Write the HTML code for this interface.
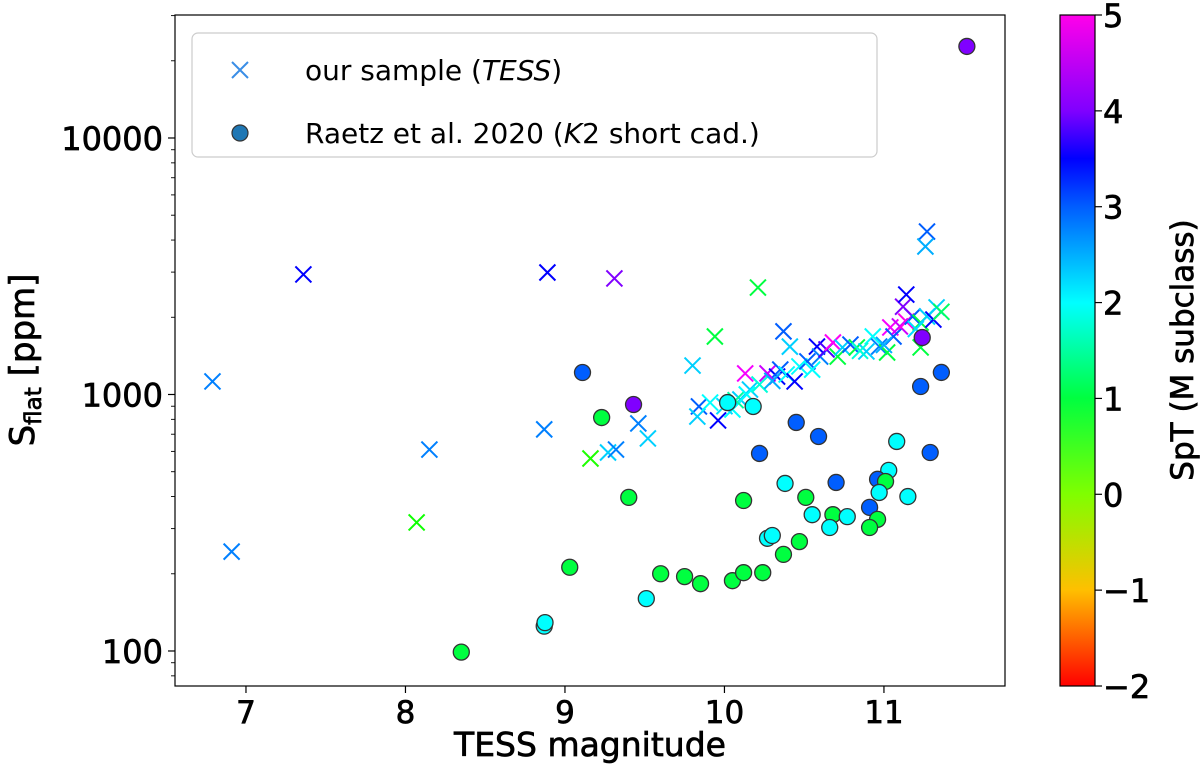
<!DOCTYPE html>
<html><head><meta charset="utf-8"><style>
html,body{margin:0;padding:0;background:#fff;}
svg{display:block;font-family:"DejaVu Sans","Liberation Sans",sans-serif;}
.big{stroke:#000;stroke-width:0.7px;}
</style></head><body>
<svg id="chart" width="1200" height="775" viewBox="0 0 1200 775" xmlns="http://www.w3.org/2000/svg">
<defs>
<linearGradient id="cbgrad" x1="0" y1="1" x2="0" y2="0">
<stop offset="0" stop-color="hsl(0,100%,50%)"/>
<stop offset="0.143" stop-color="hsl(45,100%,50%)"/>
<stop offset="0.286" stop-color="hsl(90,100%,50%)"/>
<stop offset="0.429" stop-color="hsl(135,100%,50%)"/>
<stop offset="0.571" stop-color="hsl(180,100%,50%)"/>
<stop offset="0.714" stop-color="hsl(218,100%,50%)"/>
<stop offset="0.786" stop-color="hsl(240,100%,50%)"/>
<stop offset="0.857" stop-color="hsl(270,100%,50%)"/>
<stop offset="1" stop-color="hsl(305,100%,50%)"/>
</linearGradient>
</defs>
<g id="marks"></g>
<rect x="175" y="15" width="830" height="671" fill="none" stroke="#000" stroke-width="1.2"/>
<g id="axes"></g>
<g>
<rect x="192" y="33" width="685" height="124" rx="6" fill="#fff" fill-opacity="0.85" stroke="#ccc" stroke-width="1.2"/>
<g>
<path d="M232,62 L248,78 M248,62 L232,78" stroke="#3a8ee6" stroke-width="2"/>
<text x="305" y="80" font-size="28" fill="#000">our sample (<tspan font-style="italic">TESS</tspan>)</text>
</g>
<g>
<circle cx="240" cy="133" r="8" fill="#1f77b4" stroke="#333" stroke-width="1.2"/>
<text x="305" y="143" font-size="28" fill="#000">Raetz et al. 2020 (<tspan font-style="italic">K</tspan>2 short cad.)</text>
</g>
</g>
<text class="big" x="590" y="756" font-size="33" text-anchor="middle">TESS magnitude</text>
<text class="big" transform="translate(34,360) rotate(-90)" font-size="34" text-anchor="middle">S<tspan font-size="23" dy="7">flat</tspan><tspan dy="-7"> [ppm]</tspan></text>
<rect x="1060" y="15" width="35" height="671" fill="url(#cbgrad)" stroke="#000" stroke-width="1.2"/>
<g id="cbaxis"></g>
<text class="big" transform="translate(1193,350) rotate(-90)" font-size="31" text-anchor="middle">SpT (M subclass)</text>
</svg>
<script>
const xTicks = [7, 8, 9, 10, 11];
const yTicks = [100, 1000, 10000];
const cbTicks = [-2, -1, 0, 1, 2, 3, 4, 5];
// our sample (TESS): magnitude, S_flat ppm, SpT
const tessMag = [6.79,6.91,7.36,8.15,8.07,8.89,9.31,8.87,9.16,9.27,9.32,9.46,9.52,10.21,9.94,9.80,10.37,10.41,10.13,10.27,9.84,9.83,9.96,9.91,10.05,10.10,10.16,10.22,10.33,10.35,10.39,10.44,10.47,10.52,10.58,10.60,10.64,10.68,10.71,10.74,10.79,10.83,10.89,10.93,10.97,11.02,11.04,11.06,11.10,11.14,11.18,11.12,11.14,11.23,11.23,11.27,11.33,11.31,11.27,11.26,10.00,10.07,10.14,10.30,10.55,10.85,11.00,11.20,11.36];
const tessPpm = [1124,244,2937,610,317,2990,2834,731,563,594,610,771,674,2612,1683,1297,1762,1537,1208,1208,898,820,792,930,874,956,1045,1094,1175,1251,1197,1124,1286,1345,1538,1406,1498,1595,1406,1526,1565,1526,1472,1683,1538,1458,1826,1683,1842,1925,2014,2200,2452,1908,1526,2014,2185,1960,4318,3775,900,950,1000,1130,1250,1480,1560,1800,2100];
const tessSpt = [2.8,2.8,3.5,2.8,0.6,3.5,4,2.8,0.5,2.3,2.8,2.8,2.3,1,1,2.3,3,2.3,4.8,4.5,3,2.3,3.5,2,2,2.3,2.3,1.8,3.5,3,2,3.5,2,3,3.5,2.8,3.8,4.9,1,2.3,3,1,2.3,2,2.8,1,4.8,3,4.5,5,3,4,3.5,1,1,2.3,2.3,3.5,3,2.5,2.2,1.5,2,2.5,2,1.8,2.5,2.2,1.2];
// Raetz et al. 2020 (K2 short cadence)
const k2Mag = [8.35,8.87,8.875,9.03,9.11,9.23,9.43,9.40,9.51,9.60,9.75,9.85,10.05,10.12,10.24,10.37,10.47,10.27,10.30,10.12,10.38,10.51,10.55,10.68,10.66,10.77,10.70,10.22,10.45,10.59,10.02,10.18,11.08,11.29,11.23,11.36,11.03,10.96,11.01,10.97,11.15,10.91,10.96,10.91,11.24,11.52];
const k2Ppm = [99,125,129,212,1218,813,914,397,160,200,195,183,188,202,202,238,267,275,282,386,450,397,340,340,303,334,454,589,778,686,930,898,656,594,1074,1219,506,467,458,415,400,363,326,303,1667,22750];
const k2Spt = [1,2,2,1,3,1,4,1,2,1,1,1,1,1,1,1,1,2,2,1,2,1,2,1,2,2,3,3,3,3,2,2,2,3,3,3,2,3,1,2,2,3,1,1,4,4];

const NS = 'http://www.w3.org/2000/svg';
const X0 = 175, X1 = 1005, Y0 = 15, Y1 = 686;
const xMin = 6.555, xMax = 11.759;
const lyMin = 1.8635, lyMax = 4.4795;
function xs(v){ return X0 + (v - xMin) / (xMax - xMin) * (X1 - X0); }
function ys(v){ return Y1 - (Math.log10(v) - lyMin) / (lyMax - lyMin) * (Y1 - Y0); }
function cbY(v){ return Y1 - (v + 2) / 7 * (Y1 - Y0); }
function hueOf(s){
  const hs = [0,45,90,135,180,218,240,270,305];
  const ts = [-2,-1,0,1,2,3,3.5,4,5];
  s = Math.max(-2, Math.min(5, s));
  for (let i = 0; i < ts.length - 1; i++) {
    if (s <= ts[i+1]) return hs[i] + (s - ts[i]) / (ts[i+1] - ts[i]) * (hs[i+1] - hs[i]);
  }
  return 305;
}
function col(s){ return 'hsl(' + hueOf(s).toFixed(0) + ',100%,50%)'; }
function mk(tag, attrs, parent){ const e = document.createElementNS(NS, tag); for (const k in attrs) e.setAttribute(k, attrs[k]); parent.appendChild(e); return e; }

const marks = document.getElementById('marks');
for (let i = 0; i < tessMag.length; i++) {
  const cx = xs(tessMag[i]), cy = ys(tessPpm[i]), d = 8;
  const p = mk('path', {d: 'M'+(cx-d)+','+(cy-d)+' L'+(cx+d)+','+(cy+d)+' M'+(cx+d)+','+(cy-d)+' L'+(cx-d)+','+(cy+d), stroke: col(tessSpt[i]), 'stroke-width': 2, fill: 'none'}, marks);
  
  
}
for (let i = 0; i < k2Mag.length; i++) {
  const c = mk('circle', {cx: xs(k2Mag[i]), cy: ys(k2Ppm[i]), r: 8, fill: col(k2Spt[i]), stroke: '#333', 'stroke-width': 1.3}, marks);
  
  
}

const axes = document.getElementById('axes');
xTicks.forEach(v => {
  const x = xs(v);
  mk('line', {x1: x, y1: Y1, x2: x, y2: Y1 + 7, stroke: '#000', 'stroke-width': 1.2}, axes);
  const t = mk('text', {x: x, y: Y1 + 37, 'font-size': 31, 'text-anchor': 'middle', 'class': 'big'}, axes);
  t.textContent = v;
  
  
});
yTicks.forEach(v => {
  const y = ys(v);
  mk('line', {x1: X0 - 7, y1: y, x2: X0, y2: y, stroke: '#000', 'stroke-width': 1.2}, axes);
  const t = mk('text', {x: X0 - 12, y: y + 12, 'font-size': 32, 'text-anchor': 'end', 'class': 'big'}, axes);
  t.textContent = v;
  
  
});
for (let dec = 10; dec <= 10000; dec *= 10) {
  for (let m = 2; m <= 9; m++) {
    const v = dec * m;
    const y = ys(v);
    if (y < Y0 || y > Y1) continue;
    mk('line', {x1: X0 - 4, y1: y, x2: X0, y2: y, stroke: '#000', 'stroke-width': 0.9}, axes);
  }
}
const cba = document.getElementById('cbaxis');
cbTicks.forEach(v => {
  const y = cbY(v);
  mk('line', {x1: 1095, y1: y, x2: 1102, y2: y, stroke: '#000', 'stroke-width': 1.2}, cba);
  const t = mk('text', {x: 1103, y: y + 12, 'font-size': 32, 'class': 'big'}, cba);
  t.textContent = v < 0 ? '\u2212' + Math.abs(v) : v;
  
  
});
</script>
</body></html>
